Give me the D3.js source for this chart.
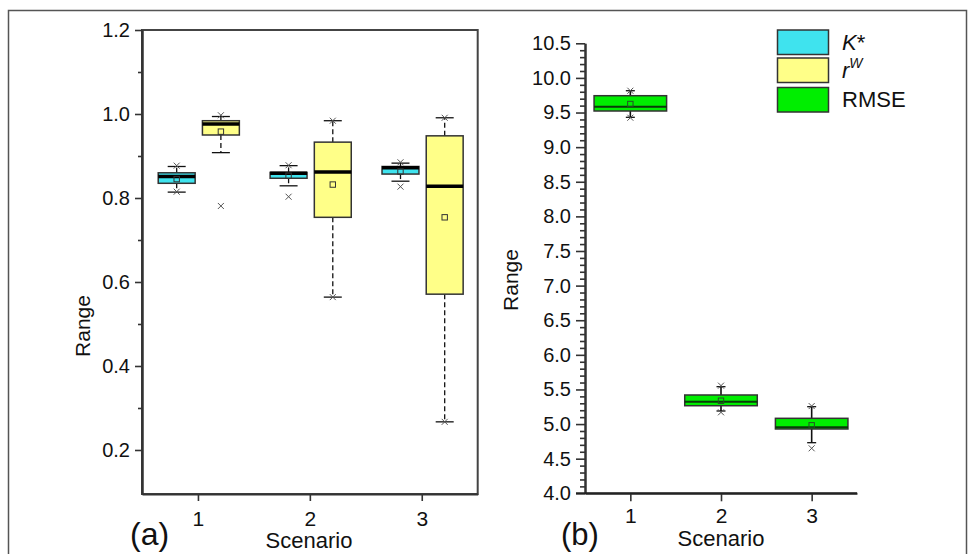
<!DOCTYPE html>
<html>
<head>
<meta charset="utf-8">
<script src="https://cdn.jsdelivr.net/npm/d3@7"></script>
<style>
  body { margin: 0; background: #fff; }
  svg text { font-family: "Liberation Sans", Arial, sans-serif; fill: #111; }
</style>
</head>
<body>
<div id="plot"></div>
<script>
    // Box statistics: lo/hi = whisker ends, q1/q3 = box, med, mean, marks = x symbols
    const scenarios = [1, 2, 3];

    const kStar = [
        { lo: 0.814, q1: 0.835, med: 0.851, q3: 0.860, hi: 0.875, mean: 0.845, marks: [0.877, 0.815] },
        { lo: 0.829, q1: 0.847, med: 0.859, q3: 0.861, hi: 0.877, mean: 0.853, marks: [0.878, 0.803] },
        { lo: 0.840, q1: 0.857, med: 0.872, q3: 0.875, hi: 0.883, mean: 0.863, marks: [0.885, 0.827] }
    ];
    const rW = [
        { lo: 0.908, q1: 0.950, med: 0.976, q3: 0.984, hi: 0.994, mean: 0.958, marks: [0.997, 0.781] },
        { lo: 0.564, q1: 0.754, med: 0.862, q3: 0.933, hi: 0.984, mean: 0.832, marks: [0.984, 0.564] },
        { lo: 0.267, q1: 0.571, med: 0.828, q3: 0.948, hi: 0.991, mean: 0.754, marks: [0.991, 0.267] }
    ];
    const rmse = [
        { lo: 9.431, q1: 9.522, med: 9.584, q3: 9.743, hi: 9.815, mean: 9.623, marks: [9.815, 9.425] },
        { lo: 5.189, q1: 5.265, med: 5.323, q3: 5.420, hi: 5.540, mean: 5.337, marks: [5.555, 5.170] },
        { lo: 4.731, q1: 4.929, med: 4.953, q3: 5.083, hi: 5.251, mean: 4.982, marks: [5.260, 4.650] }
    ];

    const leftMajor = [0.2, 0.4, 0.6, 0.8, 1.0, 1.2];
    const leftMinor = [0.3, 0.5, 0.7, 0.9, 1.1];
    const rightMajor = d3.range(8, 22).map(d => d / 2);          // 4.0 .. 10.5
    const rightMinor = d3.range(40, 106).map(d => d / 10).filter(d => Math.round(d * 10) % 5 !== 0);

    const colors = { k: '#3fe3ee', r: '#ffff88', rmse: '#00ee00' };

    const svgWidth = 974;
    const svgHeight = 554;

    const svg = d3.select('#plot')
        .append('svg')
        .attr('width', svgWidth)
        .attr('height', svgHeight);

    // outer frame
    svg.append('rect')
        .attr('x', 8.5).attr('y', 10.5)
        .attr('width', 958).attr('height', 600)
        .attr('fill', 'none').attr('stroke', '#555').attr('stroke-width', 1.5);

    // ---------- panel (a) ----------
    const xA = d3.scaleLinear().domain([0.5, 3.5]).range([142, 477.7]);
    const yA = d3.scaleLinear().domain([0.0952, 1.2]).range([494, 30]);

    // frame box
    svg.append('rect')
        .attr('x', xA(0.5)).attr('y', yA(1.2))
        .attr('width', xA(3.5) - xA(0.5)).attr('height', yA(0.0952) - yA(1.2))
        .attr('fill', 'none').attr('stroke', '#444').attr('stroke-width', 2);

    const yAxisA = svg.append('g')
        .attr('transform', `translate(${xA(0.5)}, 0)`)
        .call(d3.axisLeft(yA).tickValues(leftMajor).tickFormat(d3.format('.1f')).tickSize(7).tickSizeOuter(0).tickPadding(5));
    svg.append('g')
        .attr('transform', `translate(${xA(0.5)}, 0)`)
        .call(d3.axisLeft(yA).tickValues(leftMinor).tickFormat('').tickSize(4).tickSizeOuter(0));

    const xAxisA = svg.append('g')
        .attr('transform', `translate(0, ${yA(0.0952)})`)
        .call(d3.axisBottom(xA).tickValues(scenarios).tickFormat(d3.format('d')).tickSize(7).tickSizeOuter(0).tickPadding(10));

    // ---------- panel (b) ----------
    const xB = d3.scaleLinear().domain([0.5, 3.5]).range([585, 857]);
    const yB = d3.scaleLinear().domain([4.0, 10.5]).range([493.3, 43.3]);

    const yAxisB = svg.append('g')
        .attr('transform', `translate(${xB(0.5)}, 0)`)
        .call(d3.axisLeft(yB).tickValues(rightMajor).tickFormat(d3.format('.1f')).tickSize(9).tickSizeOuter(0).tickPadding(5));
    svg.append('g')
        .attr('transform', `translate(${xB(0.5)}, 0)`)
        .call(d3.axisLeft(yB).tickValues(rightMinor).tickFormat('').tickSize(5).tickSizeOuter(0));

    const xAxisB = svg.append('g')
        .attr('transform', `translate(0, ${yB(4.0)})`)
        .call(d3.axisBottom(xB).tickValues(scenarios).tickFormat(d3.format('d')).tickSize(8).tickSizeOuter(0).tickPadding(7));
    // x axis line runs under the 4.0 tick
    svg.append('line')
        .attr('x1', xB(0.5) - 9).attr('x2', xB(3.5))
        .attr('y1', yB(4.0)).attr('y2', yB(4.0))
        .attr('stroke', '#222').attr('stroke-width', 2);

    // axis styling
    svg.selectAll('.domain').attr('stroke', '#333').attr('stroke-width', 2);
    svg.selectAll('.tick line').attr('stroke', '#333').attr('stroke-width', 1.6);
    yAxisA.selectAll('text').style('font-size', '20px');
    yAxisB.selectAll('text').style('font-size', '20px');
    xAxisA.selectAll('text').style('font-size', '21px');
    xAxisB.selectAll('text').style('font-size', '21px');

    // axis titles
    svg.append('text')
        .attr('transform', 'translate(90, 326) rotate(-90)')
        .style('text-anchor', 'middle').style('font-size', '21px')
        .text('Range');
    svg.append('text')
        .attr('x', 309).attr('y', 548)
        .style('text-anchor', 'middle').style('font-size', '22px')
        .text('Scenario');
    svg.append('text')
        .attr('transform', 'translate(518, 280) rotate(-90)')
        .style('text-anchor', 'middle').style('font-size', '21px')
        .text('Range');
    svg.append('text')
        .attr('x', 721).attr('y', 546)
        .style('text-anchor', 'middle').style('font-size', '22px')
        .text('Scenario');

    // panel letters
    svg.append('text').attr('x', 130).attr('y', 545).style('font-size', '32px').text('(a)');
    svg.append('text').attr('x', 561).attr('y', 545).style('font-size', '31px').text('(b)');

    // ---------- box drawing ----------
    function drawX(g, cx, cy, s) {
        g.append('path')
            .attr('d', `M${cx - s},${cy - s}L${cx + s},${cy + s}M${cx - s},${cy + s}L${cx + s},${cy - s}`)
            .attr('stroke', '#555').attr('stroke-width', 1);
    }

    function drawBoxes(stats, x, y, offset, halfW, opt) {
        const g = svg.append('g');
        stats.forEach((d, i) => {
            const cx = x(scenarios[i] + offset);
            const left = x(scenarios[i] + offset - halfW);
            const right = x(scenarios[i] + offset + halfW);
            // whiskers
            [[d.q3, d.hi], [d.q1, d.lo]].forEach(([a, b]) => {
                g.append('line')
                    .attr('x1', cx).attr('x2', cx)
                    .attr('y1', y(a)).attr('y2', y(b))
                    .attr('stroke', '#111').attr('stroke-width', opt.whiskerWidth)
                    .attr('stroke-dasharray', opt.dash);
                g.append('line')
                    .attr('x1', cx - opt.cap).attr('x2', cx + opt.cap)
                    .attr('y1', y(b)).attr('y2', y(b))
                    .attr('stroke', '#111').attr('stroke-width', 1.3);
            });
            // box
            g.append('rect')
                .attr('x', left).attr('y', y(d.q3))
                .attr('width', right - left).attr('height', y(d.q1) - y(d.q3))
                .attr('fill', opt.fill).attr('stroke', opt.stroke).attr('stroke-width', 1.5);
            // median
            g.append('line')
                .attr('x1', left).attr('x2', right)
                .attr('y1', y(d.med)).attr('y2', y(d.med))
                .attr('stroke', opt.medColor).attr('stroke-width', opt.medWidth);
            // mean
            g.append('rect')
                .attr('x', cx - 2.7).attr('y', y(d.mean) - 2.7)
                .attr('width', 5.4).attr('height', 5.4)
                .attr('fill', 'none').attr('stroke', opt.meanColor).attr('stroke-width', 1);
            // x symbols
            d.marks.forEach(m => drawX(g, cx, y(m), 3));
        });
    }

    drawBoxes(kStar, xA, yA, -0.19, 0.165,
        { fill: colors.k, stroke: '#333', medColor: '#000', medWidth: 3.5, meanColor: '#333', cap: 9, dash: '5,3', whiskerWidth: 1.3 });
    drawBoxes(rW, xA, yA, 0.205, 0.165,
        { fill: colors.r, stroke: '#333', medColor: '#000', medWidth: 3.5, meanColor: '#333', cap: 9, dash: '5,3', whiskerWidth: 1.3 });
    drawBoxes(rmse, xB, yB, 0, 0.4,
        { fill: colors.rmse, stroke: '#333', medColor: '#0a3a0a', medWidth: 2, meanColor: '#245024', cap: 4.5, dash: null, whiskerWidth: 1.6 });

    // ---------- legend ----------
    const legendItems = [
        { key: 'k', y: 30 },
        { key: 'r', y: 58 },
        { key: 'rmse', y: 87.5 }
    ];
    const legend = svg.append('g');
    legendItems.forEach(it => {
        legend.append('rect')
            .attr('x', 777.5).attr('y', it.y)
            .attr('width', 51).attr('height', 24.5)
            .attr('fill', colors[it.key]).attr('stroke', '#333').attr('stroke-width', 1.5);
    });
    const t1 = legend.append('text').attr('x', 842).attr('y', 50).style('font-size', '22px');
    t1.append('tspan').style('font-style', 'italic').text('K');
    t1.append('tspan').text('*');
    const t2 = legend.append('text').attr('x', 842).attr('y', 78).style('font-size', '22px');
    t2.append('tspan').style('font-style', 'italic').text('r');
    t2.append('tspan').style('font-style', 'italic').style('font-size', '14px').attr('dy', -10).text('W');
    legend.append('text').attr('x', 842).attr('y', 107).style('font-size', '22px').text('RMSE');
</script>
</body>
</html>
